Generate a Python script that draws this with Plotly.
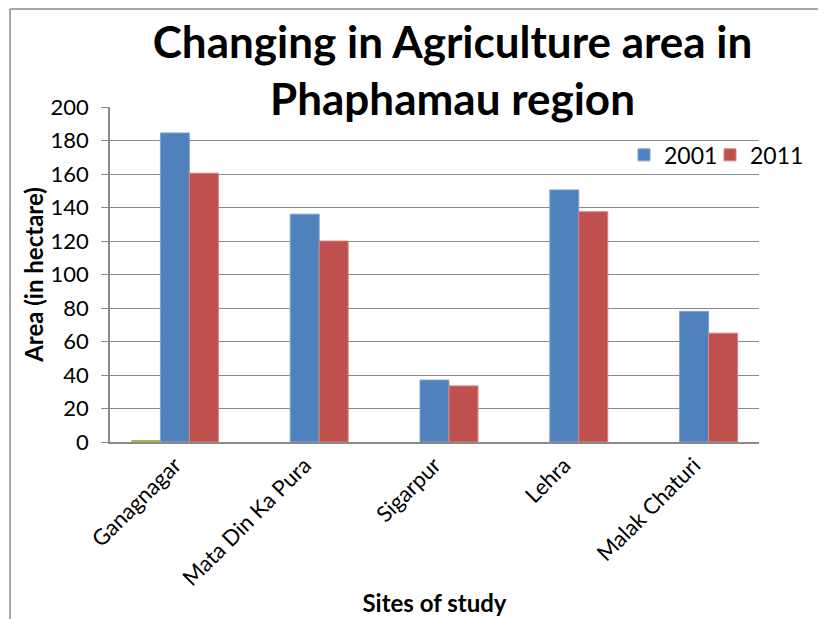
import plotly.graph_objects as go

sites = ["Ganagnagar", "Mata Din Ka Pura", "Sigarpur", "Lehra", "Malak Chaturi"]
extra_series = [0.7, 0, 0, 0, 0]
area_2001 = [184.5, 136, 37, 150.5, 78]
area_2011 = [160.5, 120, 33.5, 137.5, 65]
y_ticks = [0, 20, 40, 60, 80, 100, 120, 140, 160, 180, 200]

FONT = "Lato"

fig = go.Figure()
fig.add_trace(go.Bar(x=sites, y=extra_series, name="", showlegend=False,
                     marker=dict(color="#9BBB59", line=dict(width=0))))
fig.add_trace(go.Bar(x=sites, y=area_2001, name="2001",
                     marker=dict(color="#4F81BD", line=dict(color="#7FA3D1", width=1))))
fig.add_trace(go.Bar(x=sites, y=area_2011, name="2011",
                     marker=dict(color="#C0504D", line=dict(color="#D48583", width=1))))
# invisible spacer entry so the last legend label is not clipped
fig.add_trace(go.Scatter(x=[None], y=[None], name=" ", mode="markers",
                         marker=dict(color="rgba(0,0,0,0)"), hoverinfo="skip"))

fig.update_layout(
    width=818, height=611,
    margin=dict(l=102, r=67, t=99, b=177, autoexpand=False),
    paper_bgcolor="white", plot_bgcolor="white",
    barmode="group", bargap=0.33, bargroupgap=0,
    font=dict(family=FONT, color="black", size=22),
    title=dict(text="<b>Changing in Agriculture area in<br>Phaphamau region</b>",
               font=dict(family=FONT, size=44, color="black"),
               x=0.5434, xanchor="center", yref="container", y=0.918, yanchor="top"),
    legend=dict(orientation="h", x=0.792, xanchor="left", y=0.857, yanchor="middle",
                font=dict(size=23), bgcolor="rgba(0,0,0,0)", traceorder="normal",
                itemwidth=30, entrywidth=41, entrywidthmode="pixels"),
    showlegend=True,
)
fig.update_yaxes(range=[0, 200], tickvals=y_ticks, showgrid=True, gridcolor="#8A8A8A",
                 gridwidth=1, showline=True, linecolor="#8A8A8A", linewidth=1.5,
                 ticks="outside", ticklen=7, tickcolor="#8A8A8A", ticklabelstandoff=8,
                 zeroline=False, tickfont=dict(size=22), automargin=False,
                 title=dict(text="<b>Area (in hectare)</b>", font=dict(size=24), standoff=0))
fig.update_xaxes(showline=True, linecolor="#8A8A8A", linewidth=1.5, tickangle=-45,
                 tickfont=dict(size=22), automargin=False,
                 title=dict(text="<b>Sites of study</b>", font=dict(size=24), standoff=5))

fig.add_shape(type="line", xref="paper", yref="paper", x0=-0.154, x1=1.2, y0=1.2925, y1=1.2925,
              line=dict(color="#8A8A8A", width=1.5))
fig.add_shape(type="line", xref="paper", yref="paper", x0=-0.154, x1=-0.154, y0=1.2925, y1=-0.6,
              line=dict(color="#8A8A8A", width=1.5))

fig.write_html("out.html")
